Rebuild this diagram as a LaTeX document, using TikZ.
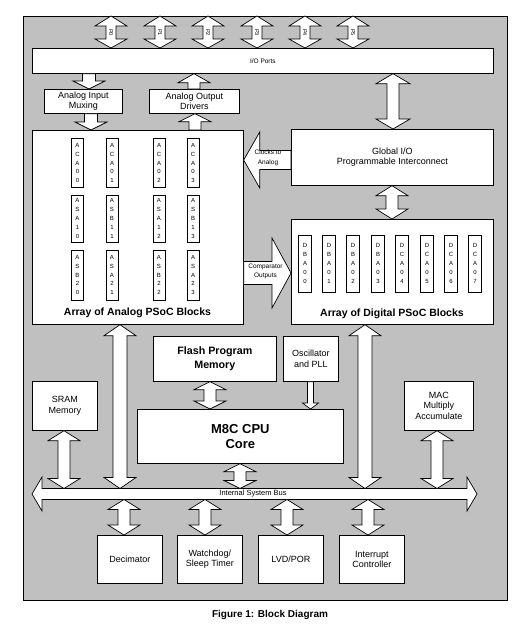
\documentclass[tikz,border=0pt]{standalone}
\usepackage{fontspec}
\setmainfont{Liberation Sans}
\usetikzlibrary{calc}
\definecolor{framegray}{RGB}{192,192,192}
\newcommand\fsz[2]{\fontsize{#1}{#2}\selectfont}
\newcommand\stk[5]{#1\\#2\\#3\\#4\\#5}
\tikzset{
  blk/.style={draw=black, fill=white, line width=0.7pt, inner sep=0pt, align=center, anchor=north west, font=\fsz{9}{10.5}},
  sub/.style={draw=black, fill=white, line width=0.6pt, inner sep=0pt, align=center, minimum width=12pt, font=\fsz{6}{8.8}},
  barrow/.style={draw=black, fill=white, line width=0.7pt, line join=miter},
  lbl/.style={inner sep=0pt, align=center},
}
% block: [opts]{name}{x1}{y1}{x2}{y2}{text}
\newcommand\blk[7][]{\node[blk,minimum width={(#5-#3)*1pt},minimum height={(#6-#4)*1pt},#1] (#2) at (#3,#4) {#7};}
% vertical double arrow: x, top point, bottom point, half head, half shaft, head len top, head len bottom
\newcommand\vdarrow[7]{\path[barrow] let \p1=(#2), \p2=(#3) in
  ({(#1-#5)*1pt},{\y1-#6pt}) -- ({(#1-#4)*1pt},{\y1-#6pt}) -- ({#1*1pt},\y1) -- ({(#1+#4)*1pt},{\y1-#6pt}) -- ({(#1+#5)*1pt},{\y1-#6pt})
  -- ({(#1+#5)*1pt},{\y2+#7pt}) -- ({(#1+#4)*1pt},{\y2+#7pt}) -- ({#1*1pt},\y2) -- ({(#1-#4)*1pt},{\y2+#7pt}) -- ({(#1-#5)*1pt},{\y2+#7pt}) -- cycle;}
% vertical single arrow pointing down: x, tail point (top), tip point (bottom), half head, half shaft, head len
\newcommand\vsdown[6]{\path[barrow] let \p1=(#2), \p2=(#3) in
  ({(#1-#5)*1pt},\y1) -- ({(#1+#5)*1pt},\y1) -- ({(#1+#5)*1pt},{\y2+#6pt}) -- ({(#1+#4)*1pt},{\y2+#6pt}) -- ({#1*1pt},\y2)
  -- ({(#1-#4)*1pt},{\y2+#6pt}) -- ({(#1-#5)*1pt},{\y2+#6pt}) -- cycle;}
% vertical single arrow pointing up: x, tip point (top), tail point (bottom), half head, half shaft, head len
\newcommand\vsup[6]{\path[barrow] let \p1=(#2), \p2=(#3) in
  ({#1*1pt},\y1) -- ({(#1+#4)*1pt},{\y1-#6pt}) -- ({(#1+#5)*1pt},{\y1-#6pt}) -- ({(#1+#5)*1pt},\y2) -- ({(#1-#5)*1pt},\y2)
  -- ({(#1-#5)*1pt},{\y1-#6pt}) -- ({(#1-#4)*1pt},{\y1-#6pt}) -- cycle;}
% horizontal single arrows: y, tail point, tip point, half head, half shaft, head len
\newcommand\hsright[6]{\path[barrow] let \p1=(#2), \p2=(#3) in
  (\x1,{-(#1-#5)*1pt}) -- ({\x2-#6pt},{-(#1-#5)*1pt}) -- ({\x2-#6pt},{-(#1-#4)*1pt}) -- (\x2,{-#1*1pt})
  -- ({\x2-#6pt},{-(#1+#4)*1pt}) -- ({\x2-#6pt},{-(#1+#5)*1pt}) -- (\x1,{-(#1+#5)*1pt}) -- cycle;}
\newcommand\hsleft[6]{\path[barrow] let \p1=(#2), \p2=(#3) in
  (\x1,{-(#1-#5)*1pt}) -- ({\x2+#6pt},{-(#1-#5)*1pt}) -- ({\x2+#6pt},{-(#1-#4)*1pt}) -- (\x2,{-#1*1pt})
  -- ({\x2+#6pt},{-(#1+#4)*1pt}) -- ({\x2+#6pt},{-(#1+#5)*1pt}) -- (\x1,{-(#1+#5)*1pt}) -- cycle;}
\begin{document}
\begin{tikzpicture}[x=1pt,y=-1pt]
\useasboundingbox[fill=white] (0,0) rectangle (522,627);
\node[draw=black, fill=framegray, line width=0.7pt, inner sep=0pt, anchor=north west, minimum width=484pt, minimum height=584pt] (frame) at (23,16) {};

% blocks
\blk[font=\fsz{6.5}{7}]{io}{32}{48}{493}{73}{I/O Ports}
\blk{mux}{44}{89}{122}{113}{Analog Input\\Muxing}
\blk{drv}{149}{89}{239}{113}{Analog Output\\Drivers}
\blk{ana}{32}{130}{243}{324}{}
\node[lbl, font=\bfseries\fsz{10.5}{12}] (analbl) at (137.5,313) {Array of Analog PSoC Blocks};
\blk{glob}{291}{129}{493}{185}{Global I/O\\Programmable Interconnect}
\blk{dig}{291}{219}{493}{324}{}
\node[lbl, font=\bfseries\fsz{10.5}{12}] (diglbl) at (392,314) {Array of Digital PSoC Blocks};
\blk[font=\bfseries\fsz{10.7}{13.3}]{flash}{153}{336}{276}{381}{Flash Program\\Memory}
\blk{osc}{283}{336}{338}{381}{Oscillator\\and PLL}
\blk[font=\bfseries\fsz{13}{14.5}]{cpu}{137}{409}{343}{463}{M8C CPU\\Core}
\blk{sram}{32}{381}{97}{430}{SRAM\\Memory}
\blk{mac}{404}{381}{473}{430}{MAC\\Multiply\\Accumulate}
\blk{dec}{97}{535}{162}{583}{Decimator}
\blk{wdt}{177}{535}{242}{583}{Watchdog/\\Sleep Timer}
\blk{lvd}{258}{535}{323}{583}{LVD/POR}
\blk{intc}{339}{535}{404}{583}{Interrupt\\Controller}

% analog sub-blocks
\foreach \cx/\lab [count=\i] in {77.5/ACA00,112/ACA01,159/ACA02,193/ACA03}
  \node[sub, minimum height=49pt] (ra\i) at (\cx,163) {\expandafter\stk\lab};
\foreach \cx/\lab [count=\i] in {77.5/ASA10,112/ASB11,159/ASA12,193/ASB13}
  \node[sub, minimum height=47pt] (rb\i) at (\cx,218.5) {\expandafter\stk\lab};
\foreach \cx/\lab [count=\i] in {77.5/ASB20,112/ASA21,159/ASB22,193/ASA23}
  \node[sub, minimum height=50pt] (rc\i) at (\cx,275) {\expandafter\stk\lab};
% digital sub-blocks
\foreach \cx/\lab [count=\i] in {305/DBA00,329/DBA01,353/DBA02,378/DBA03,402/DCA04,427/DCA05,451/DCA06,475/DCA07}
  \node[sub, minimum width=13pt, minimum height=57pt] (rd\i) at (\cx,263.5) {\expandafter\stk\lab};

% port arrows
\foreach \px/\pl in {111/P0,160/P1,208/P2,257/P3,305/P4,353/P5}{
  \vdarrow{\px}{frame.north}{io.north}{16}{5}{10}{9}
  \node[lbl, rotate=-90, font=\fsz{5.5}{6}] (port\pl) at (\px,32.5) {\pl};
}

% upper arrows
\vsdown{89}{io.south}{mux.north}{16}{6.5}{8}
\vsdown{91}{mux.south}{ana.north}{16}{6.5}{8}
\vsup{194}{io.south}{drv.north}{16}{6}{9}
\vsup{195}{drv.south}{ana.north}{16}{6}{8}
\vdarrow{393}{io.south}{glob.north}{17}{6}{10}{10}
\vdarrow{392}{glob.south}{dig.north}{16}{6}{10}{10}
\hsleft{160}{glob.west}{ana.east}{28}{9.5}{16}
\node[lbl, font=\fsz{6.5}{9.5}] (clk) at (268,158) {Clocks to\\Analog};
\hsright{273}{ana.east}{dig.west}{35}{11.5}{19}
\node[lbl, font=\fsz{6.5}{9}] (cmp) at (265.5,271.5) {Comparator\\Outputs};

% internal system bus
\coordinate (bustop) at (0,488.5);
\coordinate (busbot) at (0,499.5);
\coordinate (busL) at (32,494);
\coordinate (busR) at (477,494);
\path[barrow] (busL) -- (42,477) -- (42,488.5) -- (467,488.5) -- (467,477) -- (busR) -- (467,511) -- (467,499.5) -- (42,499.5) -- (42,511) -- cycle;
\node[lbl, font=\fsz{7.5}{8}] (buslbl) at (253,494) {Internal System Bus};

% lower arrows
\vdarrow{120}{ana.south}{bustop}{16}{7}{11}{11}
\vdarrow{365}{dig.south}{bustop}{16}{7}{11}{11}
\vdarrow{210}{flash.south}{cpu.north}{16}{6}{8}{8}
\vsdown{310.5}{osc.south}{cpu.north}{8}{3}{6}
\vdarrow{240}{cpu.south}{bustop}{16}{6}{8}{8}
\vdarrow{64}{sram.south}{bustop}{16}{6}{10}{10}
\vdarrow{437}{mac.south}{bustop}{16}{6}{10}{10}
\foreach \bx/\bn in {124/dec,205/wdt,287/lvd,368/intc}
  \vdarrow{\bx}{busbot}{\bn.north}{16}{6}{10}{10};

\node[lbl, font=\bfseries\fsz{10}{12}] (caption) at (270,615) {Figure 1: Block Diagram};
\end{tikzpicture}
\end{document}
